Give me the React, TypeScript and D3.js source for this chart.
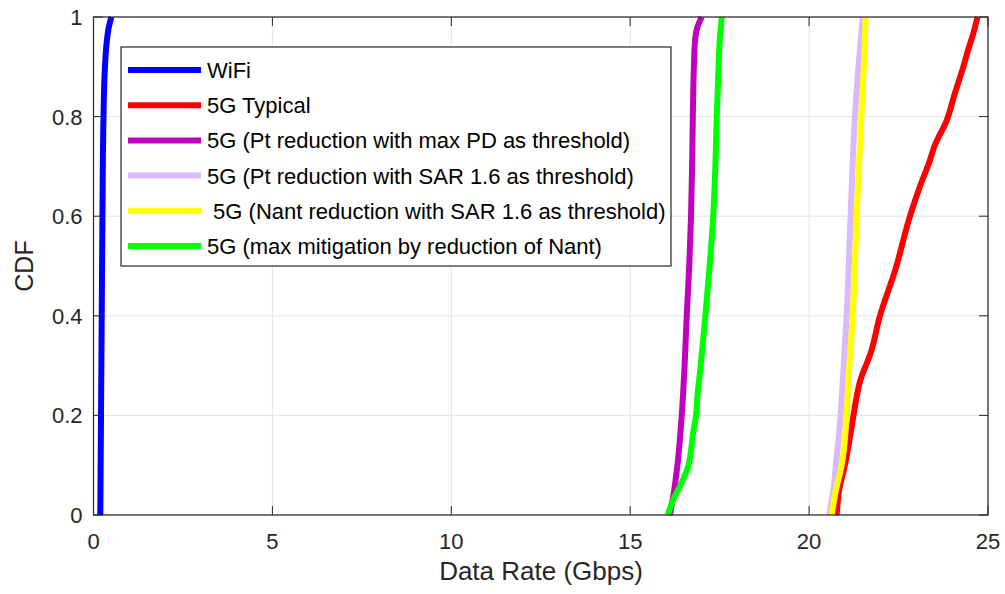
import React from "react";
import * as d3 from "d3";

const seriesNames = [
  "WiFi",
  "5G Typical",
  "5G (Pt reduction with max PD as threshold)",
  "5G (Pt reduction with SAR 1.6 as threshold)",
  " 5G (Nant reduction with SAR 1.6 as threshold)",
  "5G (max mitigation by reduction of Nant)",
];
const seriesColors = ["#0000ff", "#ff0000", "#bf00bf", "#d9b8fb", "#ffff00", "#00ff00"];

// [data rate (Gbps), CDF]
const wifi: [number, number][] = [
  [0.19, 0], [0.2, 0.1], [0.21, 0.2], [0.23, 0.4], [0.25, 0.6], [0.28, 0.8], [0.32, 0.9], [0.37, 0.95], [0.43, 0.98], [0.5, 1],
];
const typical: [number, number][] = [
  [20.77, 0], [20.84, 0.05], [21.0, 0.1], [21.24, 0.2], [21.31, 0.23], [21.43, 0.27], [21.72, 0.325], [21.98, 0.4],
  [22.4, 0.49], [22.82, 0.6], [23.1, 0.66], [23.38, 0.713], [23.5, 0.74], [23.85, 0.793], [24.08, 0.848], [24.31, 0.9],
  [24.45, 0.935], [24.59, 0.967], [24.71, 1],
];
const ptMaxPD: [number, number][] = [
  [16.11, 0], [16.23, 0.05], [16.32, 0.1], [16.44, 0.2], [16.52, 0.3], [16.58, 0.4], [16.65, 0.5], [16.7, 0.6],
  [16.73, 0.7], [16.75, 0.8], [16.78, 0.9], [16.81, 0.95], [16.88, 0.98], [17.0, 1],
];
const ptSAR: [number, number][] = [
  [20.56, 0], [20.68, 0.05], [20.75, 0.1], [20.88, 0.2], [20.94, 0.27], [21.05, 0.4], [21.16, 0.6], [21.28, 0.8],
  [21.38, 0.9], [21.5, 1],
];
const nantSAR: [number, number][] = [
  [20.63, 0], [20.75, 0.05], [20.91, 0.1], [21.05, 0.2], [21.1, 0.27], [21.22, 0.4], [21.33, 0.6], [21.46, 0.8],
  [21.53, 0.9], [21.58, 1],
];
const maxMitigation: [number, number][] = [
  [16.05, 0], [16.2, 0.03], [16.44, 0.065], [16.62, 0.097], [16.7, 0.13], [16.76, 0.165], [16.84, 0.2], [16.88, 0.24],
  [16.97, 0.3], [17.1, 0.4], [17.22, 0.5], [17.32, 0.6], [17.38, 0.7], [17.42, 0.8], [17.47, 0.9], [17.5, 0.95], [17.56, 1],
];
const allSeries = [wifi, typical, ptMaxPD, ptSAR, nantSAR, maxMitigation];

const xTicks = [0, 5, 10, 15, 20, 25];
const yTicks = [0, 0.2, 0.4, 0.6, 0.8, 1];
const xLabel = "Data Rate (Gbps)";
const yLabel = "CDF";

export default function App() {
  const W = 1005, H = 594;
  const left = 93.5, right = 988, top = 17, bottom = 515;
  const x = d3.scaleLinear().domain([0, 25]).range([left, right]);
  const y = d3.scaleLinear().domain([0, 1]).range([bottom, top]);
  const line = d3.line<[number, number]>().x((d) => x(d[0])).y((d) => y(d[1])).curve(d3.curveMonotoneY);
  const font = "Liberation Sans, Arial, Helvetica, sans-serif";
  const axisColor = "#262626";
  const tickLen = 9;

  const legX = 121, legY = 47, legW = 550, legH = 219;
  const legFirst = 70, legStep = 35.2;

  return (
    <svg width={W} height={H} style={{ position: "absolute", left: 0, top: 0, background: "#fff" }} fontFamily={font}>
      <rect x={0} y={0} width={W} height={H} fill="#fff" />
      <rect x={left} y={top} width={right - left} height={bottom - top} fill="#fff" />
      {xTicks.map((t) => (
        <line key={"gx" + t} x1={x(t)} x2={x(t)} y1={top} y2={bottom} stroke="#e3e3e3" strokeWidth={1} />
      ))}
      {yTicks.map((t) => (
        <line key={"gy" + t} x1={left} x2={right} y1={y(t)} y2={y(t)} stroke="#e3e3e3" strokeWidth={1} />
      ))}
      <defs>
        <clipPath id="plotclip">
          <rect x={left - 10} y={top - 3} width={right - left + 20} height={bottom - top + 6} />
        </clipPath>
      </defs>
      <g clipPath="url(#plotclip)">
        {allSeries.map((s, i) => (
          <path key={"s" + i} d={line(s) || ""} fill="none" stroke={seriesColors[i]} strokeWidth={6} strokeLinejoin="round" />
        ))}
      </g>
      {/* box */}
      <rect x={left} y={top} width={right - left} height={bottom - top} fill="none" stroke={axisColor} strokeWidth={1.2} />
      {xTicks.map((t) => (
        <g key={"tx" + t}>
          <line x1={x(t)} x2={x(t)} y1={bottom} y2={bottom - tickLen} stroke={axisColor} />
          <line x1={x(t)} x2={x(t)} y1={top} y2={top + tickLen} stroke={axisColor} />
          <text x={x(t)} y={bottom + 33.5} textAnchor="middle" fontSize={22} fill={axisColor}>{t}</text>
        </g>
      ))}
      {yTicks.map((t) => (
        <g key={"ty" + t}>
          <line x1={left} x2={left + tickLen} y1={y(t)} y2={y(t)} stroke={axisColor} />
          <line x1={right} x2={right - tickLen} y1={y(t)} y2={y(t)} stroke={axisColor} />
          <text x={left - 11} y={y(t) + 8} textAnchor="end" fontSize={22} fill={axisColor}>{t === 0 || t === 1 ? String(t) : t.toFixed(1)}</text>
        </g>
      ))}
      <text x={541} y={579.5} textAnchor="middle" fontSize={26} fill={axisColor}>{xLabel}</text>
      <text transform={`translate(33,${(top + bottom) / 2}) rotate(-90)`} textAnchor="middle" fontSize={25} fill={axisColor}>{yLabel}</text>
      {/* legend */}
      <rect x={legX} y={legY} width={legW} height={legH} fill="#fff" stroke={axisColor} strokeWidth={1.2} />
      {seriesNames.map((n, i) => (
        <g key={"l" + i}>
          <line x1={128} x2={201} y1={legFirst + i * legStep} y2={legFirst + i * legStep} stroke={seriesColors[i]} strokeWidth={6} />
          <text x={207} y={legFirst + i * legStep + 8} fontSize={22} fill="#000" style={{ whiteSpace: "pre" }}>{n}</text>
        </g>
      ))}
    </svg>
  );
}
